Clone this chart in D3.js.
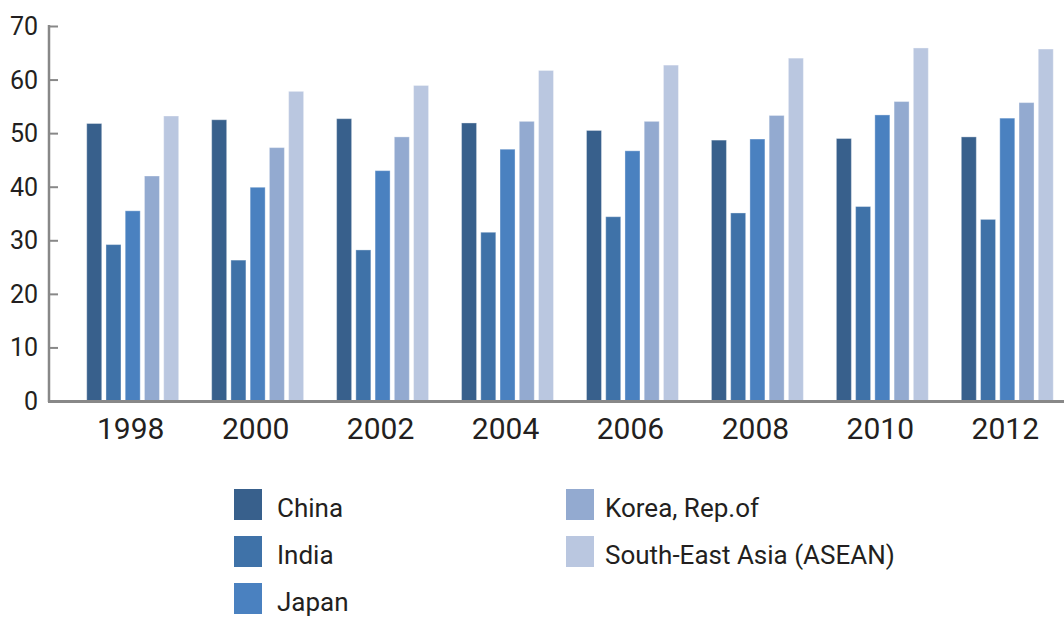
<!DOCTYPE html>
<html>
<head>
<meta charset="utf-8">
<script src="https://cdn.jsdelivr.net/npm/d3@7"></script>
<style>
  body { margin: 0; background: #fff; }
  text { font-family: Roboto, "DejaVu Sans", sans-serif; font-weight: 400; fill: #231f20; }
</style>
</head>
<body>
<div id="chart"></div>
<script>
const width = 1064;
const height = 617;

// data
const years = ["1998", "2000", "2002", "2004", "2006", "2008", "2010", "2012"];
const seriesNames = ["China", "India", "Japan", "Korea, Rep.of", "South-East Asia (ASEAN)"];
const china = [51.8, 52.5, 52.7, 51.9, 50.5, 48.7, 49.0, 49.3];
const india = [29.2, 26.3, 28.2, 31.5, 34.4, 35.1, 36.3, 33.9];
const japan = [35.5, 39.9, 43.0, 47.0, 46.7, 48.9, 53.4, 52.8];
const korea = [42.0, 47.3, 49.3, 52.2, 52.2, 53.3, 55.9, 55.7];
const asean = [53.2, 57.8, 58.9, 61.7, 62.7, 64.0, 65.9, 65.7];
const yTicks = [0, 10, 20, 30, 40, 50, 60, 70];

const colors = ["#38608c", "#3f72a8", "#4a81c0", "#93aad0", "#bac7e0"];
const allSeries = [china, india, japan, korea, asean];

const table = years.map((y, i) => ({
    year: y,
    values: seriesNames.map((s, j) => ({ key: s, value: allSeries[j][i] }))
}));

const svg = d3.select("#chart")
    .append("svg")
    .attr("width", width)
    .attr("height", height);

const x0 = d3.scaleBand()
    .domain(years)
    .range([49, 1091])
    .paddingInner(0.264)
    .paddingOuter(0.302);

const x1 = d3.scaleBand()
    .domain(seriesNames)
    .range([0, x0.bandwidth()])
    .paddingInner(0.22);

const y = d3.scaleLinear()
    .domain([0, 70])
    .range([401, 26]);

const color = d3.scaleOrdinal().domain(seriesNames).range(colors);

// bars
const groups = svg.selectAll("g.group")
    .data(table)
    .enter()
    .append("g")
    .attr("class", "group")
    .attr("transform", d => `translate(${x0(d.year)},0)`);

groups.selectAll("rect")
    .data(d => d.values)
    .enter()
    .append("rect")
    .attr("x", d => x1(d.key))
    .attr("y", d => y(d.value))
    .attr("width", x1.bandwidth())
    .attr("height", d => y(0) - y(d.value))
    .attr("fill", d => color(d.key))
    .attr("stroke", "#fff")
    .attr("stroke-opacity", 0.35)
    .attr("stroke-width", 1);

// y axis
const yAxis = svg.append("g")
    .attr("transform", "translate(49,0)")
    .call(d3.axisRight(y).tickValues(yTicks).tickSize(9).tickFormat(""));
yAxis.select(".domain").remove();
yAxis.selectAll(".tick line").attr("stroke", "#888").attr("stroke-width", 2);

svg.append("line")
    .attr("x1", 49).attr("x2", 49)
    .attr("y1", y(70) - 1).attr("y2", y(0) + 1)
    .attr("stroke", "#888")
    .attr("stroke-width", 2.5);

svg.selectAll("text.ylab")
    .data(yTicks)
    .enter()
    .append("text")
    .attr("class", "ylab")
    .attr("x", 38)
    .attr("y", d => y(d))
    .attr("dy", "0.36em")
    .attr("text-anchor", "end")
    .style("font-size", "25px")
    .text(d => d);

// x baseline + labels
svg.append("line")
    .attr("x1", 48).attr("x2", width)
    .attr("y1", y(0) + 0.5).attr("y2", y(0) + 0.5)
    .attr("stroke", "#888")
    .attr("stroke-width", 3);

svg.selectAll("text.xlab")
    .data(years)
    .enter()
    .append("text")
    .attr("class", "xlab")
    .attr("x", d => x0(d) + x0.bandwidth() / 2 - 2)
    .attr("y", 439)
    .attr("text-anchor", "middle")
    .style("font-size", "30px")
    .text(d => d);

// legend
const legendPos = [[234, 489, 43], [234, 536, 43], [234, 583, 43], [566, 489, 39], [566, 536, 39]];
const legend = svg.selectAll("g.legend")
    .data(seriesNames)
    .enter()
    .append("g")
    .attr("class", "legend")
    .attr("transform", (d, i) => `translate(${legendPos[i][0]},${legendPos[i][1]})`);

legend.append("rect")
    .attr("width", 28)
    .attr("height", 31)
    .attr("fill", d => color(d));

legend.append("text")
    .attr("x", (d, i) => legendPos[i][2])
    .attr("y", 19)
    .attr("dy", "0.36em")
    .style("font-size", "26px")
    .text(d => d);
</script>
</body>
</html>
